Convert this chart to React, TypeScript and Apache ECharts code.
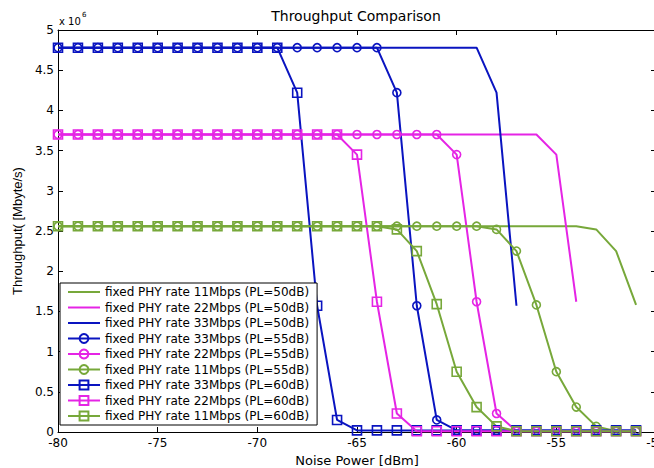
import React, { useEffect, useRef } from "react";
import * as echarts from "echarts";

// Noise power (dBm)
const noise = [-80, -79, -78, -77, -76, -75, -74, -73, -72, -71, -70, -69, -68, -67, -66, -65, -64, -63, -62, -61, -60, -59, -58, -57, -56, -55, -54, -53, -52, -51];

// Throughput (x 10^6)
const r11_pl50 = [2.56, 2.56, 2.56, 2.56, 2.56, 2.56, 2.56, 2.56, 2.56, 2.56, 2.56, 2.56, 2.56, 2.56, 2.56, 2.56, 2.56, 2.56, 2.56, 2.56, 2.56, 2.56, 2.56, 2.56, 2.56, 2.56, 2.56, 2.52, 2.25, 1.58];
const r22_pl50 = [3.70, 3.70, 3.70, 3.70, 3.70, 3.70, 3.70, 3.70, 3.70, 3.70, 3.70, 3.70, 3.70, 3.70, 3.70, 3.70, 3.70, 3.70, 3.70, 3.70, 3.70, 3.70, 3.70, 3.70, 3.70, 3.45, 1.62];
const r33_pl50 = [4.78, 4.78, 4.78, 4.78, 4.78, 4.78, 4.78, 4.78, 4.78, 4.78, 4.78, 4.78, 4.78, 4.78, 4.78, 4.78, 4.78, 4.78, 4.78, 4.78, 4.78, 4.78, 4.22, 1.57];
const r33_pl55 = [4.78, 4.78, 4.78, 4.78, 4.78, 4.78, 4.78, 4.78, 4.78, 4.78, 4.78, 4.78, 4.78, 4.78, 4.78, 4.78, 4.78, 4.22, 1.57, 0.15, 0.02, 0.02, 0.02, 0.02, 0.02, 0.02, 0.02, 0.02, 0.02, 0.02];
const r22_pl55 = [3.70, 3.70, 3.70, 3.70, 3.70, 3.70, 3.70, 3.70, 3.70, 3.70, 3.70, 3.70, 3.70, 3.70, 3.70, 3.70, 3.70, 3.70, 3.70, 3.70, 3.45, 1.62, 0.23, 0.01, 0.01, 0.01, 0.01, 0.01, 0.01, 0.01];
const r11_pl55 = [2.56, 2.56, 2.56, 2.56, 2.56, 2.56, 2.56, 2.56, 2.56, 2.56, 2.56, 2.56, 2.56, 2.56, 2.56, 2.56, 2.56, 2.56, 2.56, 2.56, 2.56, 2.56, 2.52, 2.25, 1.58, 0.75, 0.31, 0.07, 0.01, 0.01];
const r33_pl60 = [4.78, 4.78, 4.78, 4.78, 4.78, 4.78, 4.78, 4.78, 4.78, 4.78, 4.78, 4.78, 4.22, 1.57, 0.15, 0.02, 0.02, 0.02, 0.02, 0.02, 0.02, 0.02, 0.02, 0.02, 0.02, 0.02, 0.02, 0.02, 0.02, 0.02];
const r22_pl60 = [3.70, 3.70, 3.70, 3.70, 3.70, 3.70, 3.70, 3.70, 3.70, 3.70, 3.70, 3.70, 3.70, 3.70, 3.70, 3.45, 1.62, 0.23, 0.01, 0.01, 0.01, 0.01, 0.01, 0.01, 0.01, 0.01, 0.01, 0.01, 0.01, 0.01];
const r11_pl60 = [2.56, 2.56, 2.56, 2.56, 2.56, 2.56, 2.56, 2.56, 2.56, 2.56, 2.56, 2.56, 2.56, 2.56, 2.56, 2.56, 2.56, 2.52, 2.25, 1.59, 0.75, 0.31, 0.07, 0.01, 0.01, 0.01, 0.01, 0.01, 0.01, 0.01];

const names = [
  "fixed PHY rate 11Mbps (PL=50dB)",
  "fixed PHY rate 22Mbps (PL=50dB)",
  "fixed PHY rate 33Mbps (PL=50dB)",
  "fixed PHY rate 33Mbps (PL=55dB)",
  "fixed PHY rate 22Mbps (PL=55dB)",
  "fixed PHY rate 11Mbps (PL=55dB)",
  "fixed PHY rate 33Mbps (PL=60dB)",
  "fixed PHY rate 22Mbps (PL=60dB)",
  "fixed PHY rate 11Mbps (PL=60dB)",
];

const GREEN = "#77a83a";
const MAGENTA = "#e524e5";
const BLUE = "#0a14c0";

export default function App() {
  const ref = useRef<HTMLDivElement>(null);
  useEffect(() => {
    const chart = echarts.init(ref.current!, null, { renderer: "svg" });
    const mk = (name: string, ys: number[], color: string, symbol: string) => {
      const hasSym = symbol !== "none";
      return {
        type: "line",
        name,
        data: ys.map((y, i) => [noise[i], y]),
        symbol,
        symbolSize: symbol === "rect" ? 9 : 8,
        showSymbol: hasSym,
        lineStyle: { color, width: 2 },
        itemStyle: hasSym
          ? { color: "rgba(255,255,255,0)", borderColor: color, borderWidth: 1.6 }
          : { color: "rgba(255,255,255,0)", borderColor: "rgba(255,255,255,0)", borderWidth: 0 },
        emphasis: { disabled: true },
      };
    };
    const tickStyle = { color: "#000", width: 1 };
    const font = "DejaVu Sans";
    chart.setOption({
      animation: false,
      grid: { left: 58, top: 30, right: -2, bottom: 36, outerBoundsMode: "none", containLabel: false },
      graphic: [
        { type: "text", x: 356, y: 16, style: { text: "Throughput Comparison", fill: "#000", fontSize: 14, fontFamily: font, align: "center", verticalAlign: "middle" } },
        { type: "text", x: 59, y: 21, style: { text: "x 10", fill: "#000", fontSize: 10, fontFamily: font, align: "left", verticalAlign: "middle" } },
        { type: "text", x: 82, y: 15, style: { text: "6", fill: "#000", fontSize: 7, fontFamily: font, align: "left", verticalAlign: "middle" } },
      ],
      legend: {
        orient: "vertical",
        left: 60,
        top: 283,
        itemWidth: 32,
        itemHeight: 11,
        itemGap: 1.5,
        padding: [2, 8, 2, 7],
        backgroundColor: "#fff",
        borderColor: "#000",
        borderWidth: 1,
        borderRadius: 0,
        selectedMode: false,
        textStyle: { fontFamily: font, fontSize: 12, color: "#000", lineHeight: 14 },
        data: names,
      },
      xAxis: [
        {
          type: "value", min: -80, max: -50, interval: 5, position: "bottom",
          axisLine: { show: true, onZero: false, lineStyle: tickStyle },
          axisTick: { show: true, inside: true, length: 5, lineStyle: tickStyle },
          axisLabel: { color: "#000", fontFamily: font, fontSize: 12, margin: 5 },
          splitLine: { show: false },
          name: "Noise Power [dBm]", nameLocation: "middle", nameGap: 21,
          nameTextStyle: { fontFamily: font, fontSize: 13, color: "#000" },
        },
        {
          type: "value", min: -80, max: -50, interval: 5, position: "top",
          axisLine: { show: true, onZero: false, lineStyle: tickStyle },
          axisTick: { show: true, inside: true, length: 5, lineStyle: tickStyle },
          axisLabel: { show: false },
          splitLine: { show: false },
        },
      ],
      yAxis: [
        {
          type: "value", min: 0, max: 5, interval: 0.5, position: "left",
          axisLine: { show: true, onZero: false, lineStyle: tickStyle },
          axisTick: { show: true, inside: true, length: 5, lineStyle: tickStyle },
          axisLabel: { color: "#000", fontFamily: font, fontSize: 12, margin: 4 },
          splitLine: { show: false },
          name: "Throughput( [Mbyte/s)", nameLocation: "middle", nameGap: 28,
          nameTextStyle: { fontFamily: "Liberation Sans", fontSize: 13, color: "#000" },
        },
        {
          type: "value", min: 0, max: 5, interval: 0.5, position: "right",
          axisLine: { show: true, onZero: false, lineStyle: tickStyle },
          axisTick: { show: true, inside: true, length: 5, lineStyle: tickStyle },
          axisLabel: { show: false },
          splitLine: { show: false },
        },
      ],
      series: [
        mk(names[0], r11_pl50, GREEN, "none"),
        mk(names[1], r22_pl50, MAGENTA, "none"),
        mk(names[2], r33_pl50, BLUE, "none"),
        mk(names[3], r33_pl55, BLUE, "circle"),
        mk(names[4], r22_pl55, MAGENTA, "circle"),
        mk(names[5], r11_pl55, GREEN, "circle"),
        mk(names[6], r33_pl60, BLUE, "rect"),
        mk(names[7], r22_pl60, MAGENTA, "rect"),
        mk(names[8], r11_pl60, GREEN, "rect"),
      ],
    });
    return () => chart.dispose();
  }, []);
  return <div ref={ref} style={{ position: "absolute", left: 0, top: 0, width: 654, height: 468 }} />;
}
